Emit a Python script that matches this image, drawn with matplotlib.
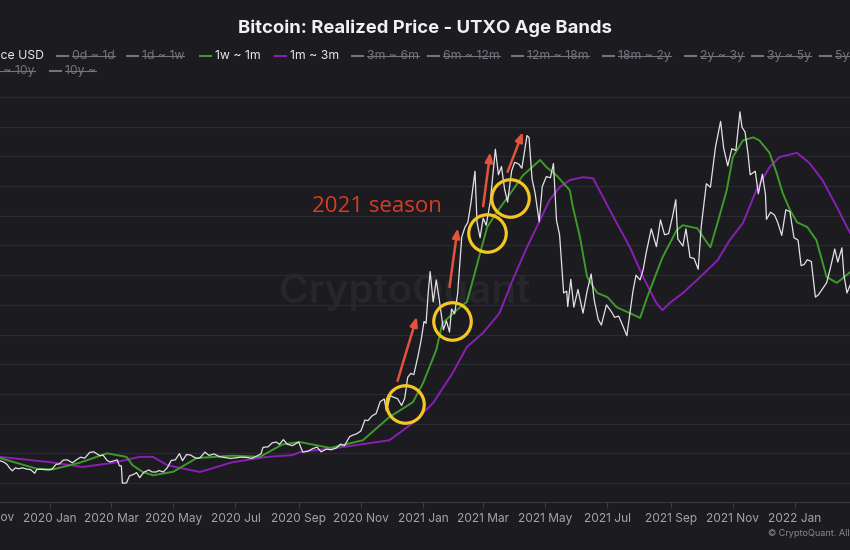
import numpy as np
import pandas as pd
import matplotlib
matplotlib.use('Agg')
import matplotlib.pyplot as plt
import matplotlib.dates as mdates

W, H = 850, 550
BG = '#1b1b20'
GRID = '#2a2a31'
TXT = '#e8e8ec'
MUTED = '#74747c'
PRICE_C = '#e2e2e6'
GREEN = '#3f9a2a'
PURPLE = '#8a1fb3'
YELLOW = '#f3c623'
RED = '#e4533b'
FONT = ['Inter', 'DejaVu Sans']

# --- data ---
price_dates = [
    '2019-11-13', '2019-11-17', '2019-11-20', '2019-11-22', '2019-11-25', '2019-11-28',
    '2019-12-01', '2019-12-05', '2019-12-09', '2019-12-13', '2019-12-17', '2019-12-19',
    '2019-12-23', '2019-12-27', '2019-12-31', '2020-01-03', '2020-01-07', '2020-01-10',
    '2020-01-14', '2020-01-18', '2020-01-23', '2020-01-27', '2020-01-31', '2020-02-04',
    '2020-02-09', '2020-02-13', '2020-02-16', '2020-02-19', '2020-02-22', '2020-02-26',
    '2020-02-29', '2020-03-04', '2020-03-07', '2020-03-09', '2020-03-11', '2020-03-12',
    '2020-03-16', '2020-03-19', '2020-03-23', '2020-03-26', '2020-03-29', '2020-04-02',
    '2020-04-07', '2020-04-10', '2020-04-14', '2020-04-17', '2020-04-21', '2020-04-25',
    '2020-04-29', '2020-05-03', '2020-05-07', '2020-05-10', '2020-05-14', '2020-05-18',
    '2020-05-23', '2020-05-27', '2020-06-01', '2020-06-05', '2020-06-10', '2020-06-15',
    '2020-06-20', '2020-06-26', '2020-07-01', '2020-07-06', '2020-07-12', '2020-07-17',
    '2020-07-22', '2020-07-26', '2020-07-28', '2020-08-02', '2020-08-06', '2020-08-10',
    '2020-08-13', '2020-08-17', '2020-08-21', '2020-08-26', '2020-09-01', '2020-09-05',
    '2020-09-10', '2020-09-15', '2020-09-19', '2020-09-23', '2020-09-28', '2020-10-03',
    '2020-10-08', '2020-10-12', '2020-10-16', '2020-10-21', '2020-10-24', '2020-10-28',
    '2020-11-01', '2020-11-05', '2020-11-08', '2020-11-12', '2020-11-16', '2020-11-20',
    '2020-11-24', '2020-11-26', '2020-11-30', '2020-12-03', '2020-12-07', '2020-12-11',
    '2020-12-14', '2020-12-17', '2020-12-20', '2020-12-23', '2020-12-27', '2020-12-30',
    '2021-01-02', '2021-01-04', '2021-01-06', '2021-01-08', '2021-01-11', '2021-01-14',
    '2021-01-17', '2021-01-21', '2021-01-24', '2021-01-27', '2021-01-29', '2021-02-01',
    '2021-02-04', '2021-02-08', '2021-02-11', '2021-02-14', '2021-02-17', '2021-02-21',
    '2021-02-23', '2021-02-26', '2021-03-01', '2021-03-04', '2021-03-08', '2021-03-13',
    '2021-03-16', '2021-03-19', '2021-03-22', '2021-03-25', '2021-03-29', '2021-04-01',
    '2021-04-05', '2021-04-08', '2021-04-13', '2021-04-15', '2021-04-18', '2021-04-21',
    '2021-04-25', '2021-04-28', '2021-05-02', '2021-05-06', '2021-05-09', '2021-05-12',
    '2021-05-15', '2021-05-19', '2021-05-22', '2021-05-23', '2021-05-26', '2021-05-29',
    '2021-06-02', '2021-06-07', '2021-06-11', '2021-06-15', '2021-06-18', '2021-06-22',
    '2021-06-25', '2021-06-30', '2021-07-05', '2021-07-08', '2021-07-12', '2021-07-16',
    '2021-07-20', '2021-07-23', '2021-07-26', '2021-07-29', '2021-08-02', '2021-08-05',
    '2021-08-08', '2021-08-13', '2021-08-18', '2021-08-22', '2021-08-26', '2021-08-30',
    '2021-09-03', '2021-09-06', '2021-09-08', '2021-09-13', '2021-09-16', '2021-09-20',
    '2021-09-24', '2021-09-28', '2021-10-01', '2021-10-06', '2021-10-10', '2021-10-15',
    '2021-10-20', '2021-10-23', '2021-10-27', '2021-10-31', '2021-11-04', '2021-11-08',
    '2021-11-10', '2021-11-13', '2021-11-16', '2021-11-18', '2021-11-23', '2021-11-26',
    '2021-11-30', '2021-12-03', '2021-12-04', '2021-12-08', '2021-12-12', '2021-12-15',
    '2021-12-19', '2021-12-23', '2021-12-27', '2021-12-31', '2022-01-04', '2022-01-07',
    '2022-01-10', '2022-01-13', '2022-01-17', '2022-01-21', '2022-01-24', '2022-01-28',
    '2022-02-01', '2022-02-05', '2022-02-09', '2022-02-12', '2022-02-16', '2022-02-18',
    '2022-02-21', '2022-02-24']
price_usd = [
    8750, 8500, 8100, 7600, 7050, 7550,
    7400, 7550, 7350, 7250, 6640, 7280,
    7320, 7250, 7200, 7350, 8150, 8200,
    8850, 8900, 8400, 8900, 9350, 9180,
    10150, 10250, 9900, 9600, 9700, 8800,
    8550, 8760, 8900, 7900, 7900, 4970,
    5010, 6200, 6450, 6750, 5900, 6800,
    7200, 6860, 6850, 7100, 6850, 7550,
    8800, 8900, 9950, 8750, 9800, 9700,
    9180, 9200, 10200, 9650, 9900, 9450,
    9300, 9150, 9230, 9350, 9300, 9150,
    9550, 9900, 11000, 11100, 11750, 11900,
    11500, 12300, 11500, 11300, 11900, 10200,
    10350, 10800, 11050, 10250, 10700, 10600,
    10900, 11550, 11300, 12800, 13050, 13300,
    13750, 15600, 15500, 16300, 16700, 18700,
    19150, 17150, 19700, 19450, 19200, 18050,
    19250, 22800, 23450, 23250, 26300, 28900,
    32200, 31900, 36800, 40600, 35500, 39200,
    35800, 30800, 32300, 30400, 34300, 33500,
    36900, 46400, 48000, 48900, 52100, 57500,
    48900, 46300, 49600, 48400, 52400, 61200,
    56900, 58300, 54500, 52300, 57600, 59000,
    58700, 58000, 63500, 63200, 56200, 53800,
    49000, 54900, 56600, 56400, 58800, 49200,
    46800, 37000, 37300, 34700, 39300, 34600,
    37600, 33600, 37300, 40200, 35800, 32500,
    31600, 35000, 33800, 32900, 33100, 31500,
    29800, 33600, 37300, 40000, 39200, 40900,
    43800, 47800, 44800, 49300, 46800, 47000,
    50000, 52700, 46100, 44900, 47800, 43000,
    42800, 41000, 48200, 55400, 54800, 61600,
    65900, 61400, 58400, 61300, 61000, 67500,
    64900, 64100, 60300, 56900, 57500, 53700,
    57000, 53600, 49400, 50600, 50100, 48900,
    46700, 51000, 50700, 46300, 45900, 41600,
    41800, 42600, 42300, 36300, 36700, 37700,
    38700, 41400, 44400, 42200, 44600, 40000,
    37000, 38300]

# 1w ~ 1m realized price
band_1w_1m_dates = [
    '2019-11-13', '2019-12-19', '2020-01-04', '2020-01-30', '2020-02-26', '2020-03-16',
    '2020-03-22', '2020-04-01', '2020-04-11', '2020-05-01', '2020-05-24', '2020-06-28',
    '2020-07-25', '2020-08-16', '2020-09-02', '2020-10-02', '2020-11-03', '2020-11-29',
    '2020-12-22', '2021-01-01', '2021-01-14', '2021-01-20', '2021-02-03', '2021-02-13',
    '2021-02-19', '2021-02-26', '2021-03-05', '2021-03-14', '2021-03-30', '2021-04-09',
    '2021-04-26', '2021-05-02', '2021-05-12', '2021-05-25', '2021-05-28', '2021-06-04',
    '2021-06-11', '2021-06-21', '2021-07-01', '2021-07-10', '2021-07-23', '2021-08-02',
    '2021-08-09', '2021-08-24', '2021-09-07', '2021-09-13', '2021-09-27', '2021-10-07',
    '2021-10-10', '2021-10-17', '2021-10-26', '2021-11-01', '2021-11-11', '2021-11-21',
    '2021-11-27', '2021-12-07', '2021-12-14', '2021-12-20', '2021-12-27', '2022-01-03',
    '2022-01-13', '2022-01-22', '2022-02-01', '2022-02-11', '2022-02-17', '2022-02-24']
band_1w_1m = [
    9200, 7400, 7300, 8400, 10000, 9400,
    8000, 6850, 6300, 6900, 9200, 9600,
    9400, 11500, 11900, 10900, 12200, 16100,
    18600, 21800, 27400, 31900, 34100, 35500,
    39200, 43700, 48100, 50500, 54300, 56800,
    59400, 58200, 56800, 54300, 51500, 46400,
    39700, 37000, 36300, 34600, 33600, 32800,
    36300, 43000, 47600, 48400, 47900, 45400,
    44700, 48800, 54300, 59900, 62700, 63200,
    62700, 60600, 57200, 53800, 51000, 48900,
    48100, 45900, 39700, 38700, 39500, 40500]

# 1m ~ 3m realized price
band_1m_3m_dates = [
    '2019-11-13', '2020-01-01', '2020-02-02', '2020-03-03', '2020-03-29', '2020-04-11',
    '2020-04-25', '2020-05-27', '2020-06-28', '2020-08-01', '2020-08-26', '2020-09-02',
    '2020-10-12', '2020-11-29', '2020-12-22', '2021-01-11', '2021-01-30', '2021-02-13',
    '2021-03-01', '2021-03-17', '2021-03-30', '2021-04-13', '2021-04-26', '2021-05-05',
    '2021-05-15', '2021-05-25', '2021-06-07', '2021-06-17', '2021-06-23', '2021-07-10',
    '2021-07-23', '2021-08-05', '2021-08-18', '2021-08-24', '2021-08-31', '2021-09-13',
    '2021-09-27', '2021-10-17', '2021-10-29', '2021-11-11', '2021-11-24', '2021-12-07',
    '2021-12-17', '2022-01-03', '2022-01-15', '2022-01-28', '2022-02-11', '2022-02-24']
band_1m_3m = [
    9400, 8500, 7700, 8400, 9400, 9400,
    8000, 6850, 8500, 9400, 9700, 10200,
    11000, 12200, 15100, 18500, 23500, 27900,
    30300, 33600, 39200, 44700, 49300, 52600,
    54800, 56000, 56500, 56300, 54300, 48800,
    44700, 39700, 35300, 34100, 35300, 37000,
    39200, 42500, 45900, 48800, 54300, 58200,
    59900, 60600, 58900, 56000, 51500, 47100]

# yellow circles and red arrows marking the 2021 run
circle_dates = ['2020-12-14', '2021-01-29', '2021-03-05', '2021-03-27']
circle_prices = [18300, 32300, 47100, 53000]
arrow_start_dates = ['2020-12-07', '2021-01-27', '2021-03-01', '2021-03-25']
arrow_start_prices = [22200, 38000, 51600, 57400]
arrow_end_dates = ['2020-12-26', '2021-02-04', '2021-03-08', '2021-04-09']
arrow_end_prices = [33000, 47900, 60700, 64100]

legend_labels = ['Price USD', '0d ~ 1d', '1d ~ 1w', '1w ~ 1m', '1m ~ 3m', '3m ~ 6m',
                 '6m ~ 12m', '12m ~ 18m', '18m ~ 2y', '2y ~ 3y', '3y ~ 5y', '5y ~ 7y',
                 '7y ~ 10y', '10y ~']
legend_colors = [PRICE_C, MUTED, MUTED, GREEN, PURPLE, MUTED, MUTED, MUTED, MUTED,
                 MUTED, MUTED, MUTED, MUTED, MUTED]
legend_active = [True, False, False, True, True, False, False, False, False,
                 False, False, False, False, False]
# pixel x of each legend line start (None = item cut at the left edge), row y
legend_x = [None, 57, 127, 200, 275, 352, 428, 512, 603, 685, 752, 820, None, 50]
legend_end = [44, None, None, None, None, None, None, None, None, None, None, None, 35, None]
legend_row = [56, 56, 56, 56, 56, 56, 56, 56, 56, 56, 56, 56, 71, 71]


def fx(px):
    return px / W


def fy(py):
    return 1 - py / H


def draw_legend(fig):
    renderer = fig.canvas.get_renderer()
    for lab, col, on, x, xe, y in zip(legend_labels, legend_colors, legend_active,
                                      legend_x, legend_end, legend_row):
        tcol = TXT if on else MUTED
        if x is None:
            t = fig.text(fx(xe), fy(y), lab, color=tcol, fontsize=8.8, family=FONT,
                         va='center', ha='right')
            bb = t.get_window_extent(renderer)
            x = bb.x0 - 15
        else:
            t = fig.text(fx(x + 15), fy(y), lab, color=tcol, fontsize=8.8, family=FONT,
                         va='center', ha='left')
        fig.add_artist(plt.Line2D([fx(x), fx(x + 11)], [fy(y), fy(y)], color=col, lw=1.5))
        if not on:
            bb = t.get_window_extent(renderer)
            ym = (bb.y0 + bb.y1) / 2 / H - 0.0005
            fig.add_artist(plt.Line2D([bb.x0 / W, bb.x1 / W], [ym, ym], color=MUTED, lw=0.8))


def main():
    plt.rcParams['font.family'] = FONT
    fig = plt.figure(figsize=(W / 100, H / 100), dpi=100, facecolor=BG)
    ax = fig.add_axes([0, fy(502), 1, (502 - 85) / H])
    ax.set_facecolor(BG)

    pd_price = pd.to_datetime(price_dates)
    pd_g = pd.to_datetime(band_1w_1m_dates)
    pd_p = pd.to_datetime(band_1m_3m_dates)

    # watermark
    ax.text(0.476, 0.503, 'CryptoQuant', transform=ax.transAxes, fontsize=29,
            color='#26262c', ha='center', va='center', fontweight='semibold', zorder=0)

    ax.plot(pd_p, band_1m_3m, color=PURPLE, lw=1.4, zorder=3)
    ax.plot(pd_g, band_1w_1m, color=GREEN, lw=1.4, zorder=4)
    ax.plot(pd_price, price_usd, color=PRICE_C, lw=0.9, zorder=5)

    # annotations
    ax.plot(pd.to_datetime(circle_dates), circle_prices, 'o', ms=27, mfc='none',
            mec=YELLOW, mew=2.3, zorder=6, ls='none')
    for d0, v0, d1, v1 in zip(pd.to_datetime(arrow_start_dates), arrow_start_prices,
                              pd.to_datetime(arrow_end_dates), arrow_end_prices):
        ax.annotate('', xy=(d1, v1), xytext=(d0, v0),
                    arrowprops=dict(arrowstyle='-|>,head_length=0.55,head_width=0.22',
                                    color=RED, lw=1.8, shrinkA=0, shrinkB=0), zorder=7)
    ax.text(pd.Timestamp('2020-11-17'), 51500, '2021 season', color='#dc3a22',
            fontsize=16, ha='center', va='center', family=['Open Sans', 'DejaVu Sans'], zorder=7)

    # axes
    x0 = pd.Timestamp('2020-01-01') - pd.Timedelta(days=50 / 1.01915)
    x1 = pd.Timestamp('2022-01-01') + pd.Timedelta(days=55 / 1.01915)
    ax.set_xlim(x0, x1)
    ax.set_ylim(1800, 72020)
    ax.set_yticks(np.arange(5000, 70001, 5000))
    ax.yaxis.set_tick_params(length=0, labelleft=False)
    ax.grid(axis='y', color=GRID, lw=0.9)
    ax.set_axisbelow(True)
    ax.xaxis.set_major_locator(mdates.MonthLocator(bymonth=[1, 3, 5, 7, 9, 11]))
    ax.xaxis.set_major_formatter(mdates.DateFormatter('%Y %b'))
    ax.tick_params(axis='x', colors='#3a3a42', length=4, width=0.8, labelcolor='#a3a3ab',
                   labelsize=8.6, pad=4)
    for s in ['top', 'left', 'right']:
        ax.spines[s].set_visible(False)
    ax.spines['bottom'].set_color('#3a3a42')
    # label of the tick just left of the view
    ax.text(x0 - pd.Timedelta(days=12), -0.024, '2019 Nov', transform=ax.get_xaxis_transform(),
            color='#a3a3ab', fontsize=8.6, ha='center', va='top', clip_on=False)

    fig.text(0.5, fy(28), 'Bitcoin: Realized Price - UTXO Age Bands', color='#f0f0f2',
             fontsize=13.3, fontweight='bold', ha='center', va='center')
    fig.text(fx(768), fy(534), '\u00a9 CryptoQuant. All rights reserved.', color='#8a8a92',
             fontsize=6.5, ha='left', va='center')
    draw_legend(fig)

    fig.savefig('out.png', dpi=100, facecolor=BG)


if __name__ == '__main__':
    main()
